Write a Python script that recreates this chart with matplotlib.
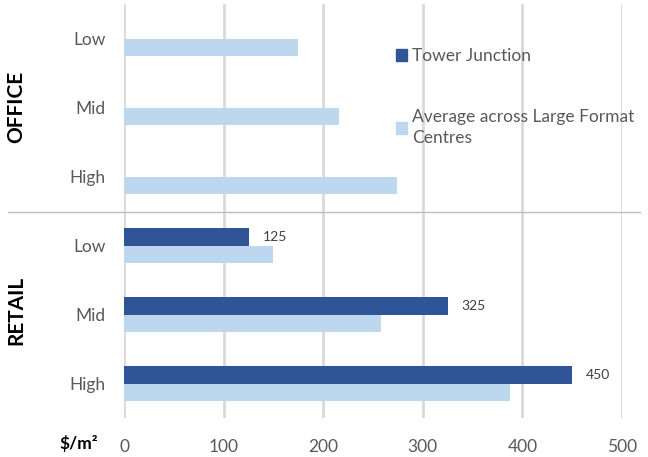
import numpy as np
import matplotlib.pyplot as plt
from matplotlib.lines import Line2D
from matplotlib.patches import Patch

plt.rcParams['font.family'] = ['Lato', 'DejaVu Sans']

### Données

levels = ['Low', 'Mid', 'High', 'Low', 'Mid', 'High']
groups = ['OFFICE', 'RETAIL']
tower = [0, 0, 0, 125, 325, 450]          # Tower Junction (only retail)
average = [175, 216, 274, 150, 258, 388]  # Average across Large Format Centres
xticks = [0, 100, 200, 300, 400, 500]

dark = '#2F5597'
light = '#BDD7EE'
grey = '#595959'
ftsize = 12.5

### Tracé

fig = plt.figure(figsize=(6.48, 4.57), dpi=100)
ax = fig.add_axes([124/648, 1-418/457, 498/648, 414/457])

y = np.arange(len(levels))
h = 0.26
has_tower = np.array(tower) > 0
b1 = ax.barh(y[has_tower] - h/2, np.array(tower)[has_tower], height=h, color=dark,
             label='Tower Junction', zorder=3)
b2 = ax.barh(y + h/2, average, height=h, color=light,
             label='Average across Large Format\nCentres', zorder=3)
ax.bar_label(b1, padding=10, fontsize=10, color='#404040')

ax.set_ylim(5.5, -0.5)
ax.set_xlim(0, 500)
ax.set_yticks(y)
ax.set_yticklabels(levels, fontsize=ftsize, color=grey)
ax.set_xticks(xticks)
ax.set_xticklabels([str(t) for t in xticks], fontsize=ftsize, color=grey)
ax.tick_params(axis='y', length=0, pad=13)
ax.tick_params(axis='x', length=0, pad=15)
ax.grid(True, axis='x', color='#D9D9D9', linewidth=2, zorder=0)
ax.set_axisbelow(True)
for s in ax.spines.values():
    s.set_visible(False)

# séparateur office / retail
fig.add_artist(Line2D([8/648, 640/648], [1-212/457, 1-212/457], color='#BFBFBF', linewidth=1))

fig.text(16/648, 1-107/457, groups[0], rotation=90, fontsize=15, fontweight='bold',
         ha='center', va='center', color='black')
fig.text(16/648, 1-310/457, groups[1], rotation=90, fontsize=15, fontweight='bold',
         ha='center', va='center', color='black')
fig.text(79/648, 1-443/457, '$/m²', fontsize=ftsize, fontweight='bold',
         ha='center', va='center', color='black')

leg = ax.legend(handles=[Patch(color=dark), Patch(color=light)],
                labels=['Tower Junction', 'Average across Large Format\nCentres'],
                loc='upper left', bbox_to_anchor=(389/648, 1-41/457),
                bbox_transform=fig.transFigure, frameon=False, fontsize=ftsize,
                handlelength=0.65, handleheight=0.65, handletextpad=0.3,
                labelspacing=2.6, borderaxespad=0)
for t in leg.get_texts():
    t.set_color(grey)
    t.set_linespacing(1.4)

plt.savefig('out.png', dpi=100)
